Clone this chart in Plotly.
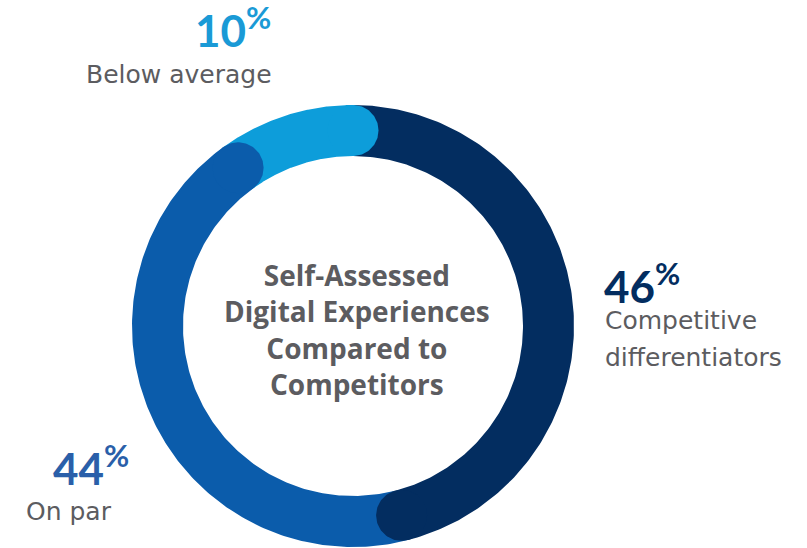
import numpy as np
import plotly.graph_objects as go

# Survey shares, drawn clockwise from 12 o'clock
categories = ["Competitive differentiators", "On par", "Below average"]
shares = [46, 44, 10]
colors = ["#032D60", "#0B5CAB", "#0D9DDA"]
label_colors = ["#032D60", "#2A5FA9", "#1A9AD6"]
center_title = ["Self-Assessed", "Digital Experiences", "Compared to", "Competitors"]
label_lines = [["Competitive", "differentiators"], ["On par"], ["Below average"]]

W, H = 807, 548
CX, CY = 353, 326          # ring centre (pixel space)
R_OUT, R_IN = 221, 170     # ring radii
R_MID = (R_OUT + R_IN) / 2
CAP = (R_OUT - R_IN) / 2   # rounded end-cap radius

TITLE_FONT = "Open Sans"
LABEL_FONT = "DejaVu Sans"
NUM_FONT = "Lato"
GRAY = "#5C5C60"


def pt(r, deg):
    t = np.radians(deg)
    return CX + r * np.sin(t), CY - r * np.cos(t)


fig = go.Figure()

# cumulative angles for each slice
ends = np.cumsum(shares) / sum(shares) * 360.0
starts = np.concatenate([[0.0], ends[:-1]])

# ring sectors
for a0, a1, col, name in zip(starts, ends, colors, categories):
    th = np.linspace(a0, a1, 200)
    xo, yo = pt(R_OUT, th)
    xi, yi = pt(R_IN, th[::-1])
    fig.add_trace(go.Scatter(
        x=np.concatenate([xo, xi]), y=np.concatenate([yo, yi]),
        fill="toself", fillcolor=col, mode="lines", line=dict(width=0),
        hoverinfo="text", text=name, showlegend=False))

# rounded caps at the clockwise end of each slice
for a1, col, name in zip(ends, colors, categories):
    mx, my = pt(R_MID, a1)
    t = np.linspace(0, 2 * np.pi, 120)
    fig.add_trace(go.Scatter(
        x=mx + CAP * np.cos(t), y=my + CAP * np.sin(t),
        fill="toself", fillcolor=col, mode="lines", line=dict(width=0),
        hoverinfo="text", text=name, showlegend=False))

annotations = []


def line_text(x, y, text, font, xanchor, align="left"):
    annotations.append(dict(x=x, y=y, xref="x", yref="y", xanchor=xanchor,
                            yanchor="middle", showarrow=False, text=text, font=font,
                            align=align, borderpad=0))


# centre title
title_font = dict(family=TITLE_FONT, size=28, color=GRAY, weight=700)
line_text(CX + 4, 329, "<br>".join(center_title), title_font, "center", "center")

num_font = dict(family=NUM_FONT, size=44, weight="bold")
lab_font = dict(family=LABEL_FONT, size=25, color=GRAY)


def pct(v):
    return f"{v}<sup>%</sup>"


# Competitive differentiators (right)
line_text(603, 283, pct(shares[0]), dict(num_font, color=label_colors[0]), "left")
for i, line in enumerate(label_lines[0]):
    line_text(604, 320 + 37 * i, line, lab_font, "left")

# On par (lower left)
line_text(52, 465, pct(shares[1]), dict(num_font, color=label_colors[1]), "left")
line_text(25, 511, label_lines[1][0], lab_font, "left")

# Below average (top)
line_text(272, 27, pct(shares[2]), dict(num_font, color=label_colors[2]), "right")
line_text(273, 74, label_lines[2][0], lab_font, "right")

fig.update_layout(
    width=W, height=H, margin=dict(l=0, r=0, t=0, b=0),
    paper_bgcolor="white", plot_bgcolor="white",
    xaxis=dict(range=[0, W], visible=False, fixedrange=True),
    yaxis=dict(range=[H, 0], visible=False, fixedrange=True),
    annotations=annotations, showlegend=False)

fig.write_html("out.html")
